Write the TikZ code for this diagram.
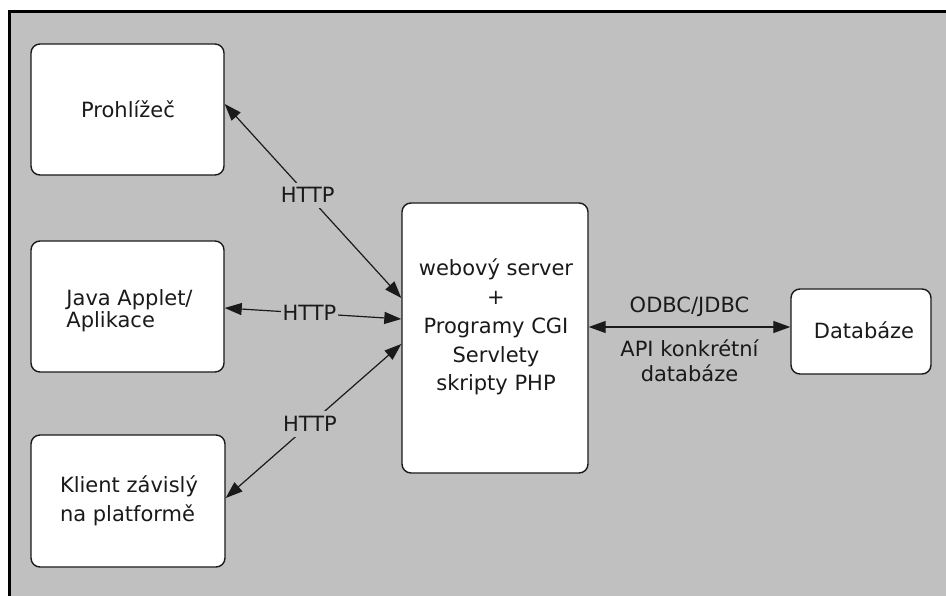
\documentclass[tikz,border=0pt]{standalone}
\usepackage{fontspec}
\setmainfont{DejaVu Sans}
\usetikzlibrary{arrows.meta,calc}
\definecolor{bggray}{HTML}{C0C0C0}
\definecolor{ink}{HTML}{1A1A1A}

\begin{document}
\begin{tikzpicture}[x=1pt,y=-1pt,
  box/.style={draw=ink, line width=1.4pt, fill=white, rounded corners=9pt, inner sep=0pt},
  txt/.style={font=\fontsize{21}{28.8}\selectfont, text=ink, inner sep=0pt},
  link/.style={draw=ink, line width=1.2pt,
    {Triangle[length=17pt,width=12pt]}-{Triangle[length=17pt,width=12pt]}},
  lbl/.style={txt, fill=bggray, inner xsep=2pt, inner ysep=5pt}
]
\useasboundingbox (0,0) rectangle (946,596);
\fill[white] (0,0) rectangle (946,596);

% panel with its dark top and left edge
\fill[bggray] (8,10) rectangle (946,596);
\draw[black, line width=3pt] (9.5,596) -- (9.5,11.5) -- (946,11.5);

% boxes
\node[box, minimum width=193pt, minimum height=131pt] (prohl)  at (127.5,109.5) {};
\node[box, minimum width=193pt, minimum height=131pt] (java)   at (127.5,306.5) {};
\node[box, minimum width=194pt, minimum height=132pt] (klient) at (128,501) {};
\node[box, minimum width=186pt, minimum height=270pt] (srv)    at (495,338) {};
\node[box, minimum width=140pt, minimum height=85pt]  (db)     at (861,331.5) {};

% box texts
\node[txt] (prohltxt) at (128,109) {Prohlížeč};
\node[txt, align=left, font=\fontsize{21}{22}\selectfont] (javatxt) at (129.5,310.5) {Java Applet/\\Aplikace};
\node[txt, align=left] (klienttxt) at (129,500.5) {Klient závislý\\na platformě};
\node[txt, align=center] (srvtxt) at (496,327) {webový server\\+\\Programy CGI\\Servlety\\skripty PHP};
\node[txt] (dbtxt) at (864,330) {Databáze};

% connectors
\draw[link] ($(prohl.east)+(0,-5.5)$) -- node[lbl, pos=0.47] {HTTP} ($(srv.west)+(0,-40)$);
\draw[link] ($(java.east)+(0,1.5)$) -- node[lbl, pos=0.48] {HTTP} ($(srv.west)+(0,-19)$);
\draw[link] ($(srv.west)+(0,6)$) -- node[lbl, pos=0.52] {HTTP} ($(klient.east)+(0,-3)$);
\draw[link] ($(srv.east)+(0,-11)$) --
  node[txt, pos=0.5, anchor=base, yshift=14pt] (odbc) {ODBC/JDBC}
  node[txt, pos=0.5, below=12pt, align=center, font=\fontsize{21}{25}\selectfont] (api) {API konkrétní\\databáze}
  ($(db.west)+(0,-4.5)$);
\end{tikzpicture}
\end{document}
